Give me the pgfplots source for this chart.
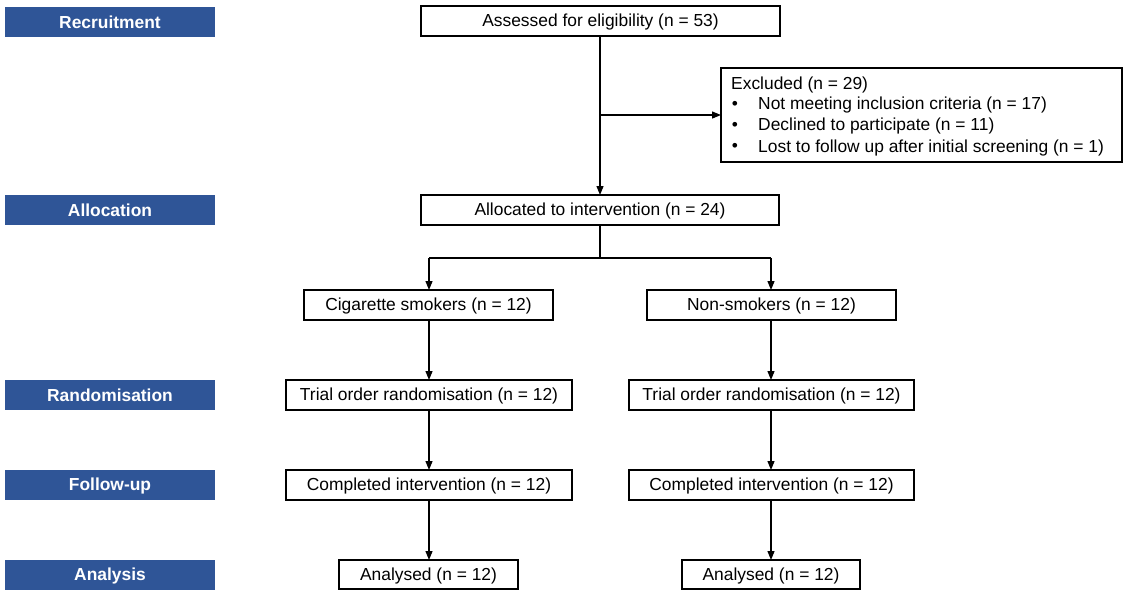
\documentclass[border=0pt]{standalone}
\usepackage{pgfplots}
\pgfplotsset{compat=1.18}
\usepackage{fontspec}
\setmainfont{Liberation Sans}
\usetikzlibrary{arrows.meta}
\definecolor{stageblue}{HTML}{2F5597}

\begin{document}
\begin{tikzpicture}[
    box/.style={draw=black, line width=1.2pt, fill=white},
    arr/.style={line width=1.2pt, -{Triangle[length=9pt,width=7pt]}},
    txt/.style={font=\fontsize{17.4}{21}\selectfont, inner sep=0pt},
    stage/.style={font=\fontsize{17.4}{21}\selectfont\bfseries, inner sep=0pt, text=white},
  ]
  \begin{axis}[
    width=1124pt, height=590pt, scale only axis,
    xmin=0, xmax=1124, ymin=0, ymax=590, y dir=reverse,
    axis lines=none, xtick=\empty, ytick=\empty,
    clip=false,
  ]
    \addplot[draw=none] coordinates {(0,0) (1124,590)};

    % stage labels on the left
    \fill[stageblue] (axis cs:5,7) rectangle (axis cs:215,37);
    \node[stage] at (axis cs:110,22.5) {Recruitment};
    \fill[stageblue] (axis cs:5,195) rectangle (axis cs:215,225);
    \node[stage] at (axis cs:110,210.5) {Allocation};
    \fill[stageblue] (axis cs:5,380) rectangle (axis cs:215,410);
    \node[stage] at (axis cs:110,395.5) {Randomisation};
    \fill[stageblue] (axis cs:5,470) rectangle (axis cs:215,500);
    \node[stage] at (axis cs:110,485.5) {Follow-up};
    \fill[stageblue] (axis cs:5,560) rectangle (axis cs:215,590);
    \node[stage] at (axis cs:110,575.5) {Analysis};

    % connectors
    \draw[arr] (axis cs:600,36) -- (axis cs:600,195);
    \draw[arr] (axis cs:600,115) -- (axis cs:721,115);
    \draw[line width=1.2pt] (axis cs:600,225) -- (axis cs:600,258);
    \draw[line width=1.2pt] (axis cs:429,258) -- (axis cs:771,258);
    \draw[arr] (axis cs:429,258) -- (axis cs:429,290);
    \draw[arr] (axis cs:771,258) -- (axis cs:771,290);
    \draw[arr] (axis cs:429,320) -- (axis cs:429,380);
    \draw[arr] (axis cs:429,410) -- (axis cs:429,470);
    \draw[arr] (axis cs:429,500) -- (axis cs:429,560);
    \draw[arr] (axis cs:771,320) -- (axis cs:771,380);
    \draw[arr] (axis cs:771,410) -- (axis cs:771,470);
    \draw[arr] (axis cs:771,500) -- (axis cs:771,560);

    % boxes
    \draw[box] (axis cs:421,6) rectangle (axis cs:780,36);
    \node[txt] at (axis cs:600.5,22) {Assessed for eligibility (n = 53)};

    \draw[box] (axis cs:721,68) rectangle (axis cs:1122,162);
    \node[txt, anchor=west] at (axis cs:731,84.5) {Excluded (n = 29)};
    \node[txt] at (axis cs:735,105) {\textbullet};
    \node[txt, anchor=west] at (axis cs:758,105) {Not meeting inclusion criteria (n = 17)};
    \node[txt] at (axis cs:735,126) {\textbullet};
    \node[txt, anchor=west] at (axis cs:758,126) {Declined to participate (n = 11)};
    \node[txt] at (axis cs:735,147.5) {\textbullet};
    \node[txt, anchor=west] at (axis cs:758,147.5) {Lost to follow up after initial screening (n = 1)};

    \draw[box] (axis cs:421,195) rectangle (axis cs:779,225);
    \node[txt] at (axis cs:600,211) {Allocated to intervention (n = 24)};

    \draw[box] (axis cs:304,290) rectangle (axis cs:553,320);
    \node[txt] at (axis cs:428.5,306) {Cigarette smokers (n = 12)};
    \draw[box] (axis cs:647,290) rectangle (axis cs:896,320);
    \node[txt] at (axis cs:771.5,306) {Non-smokers (n = 12)};

    \draw[box] (axis cs:286,380) rectangle (axis cs:572,410);
    \node[txt] at (axis cs:429,396) {Trial order randomisation (n = 12)};
    \draw[box] (axis cs:629,380) rectangle (axis cs:914,410);
    \node[txt] at (axis cs:771.5,396) {Trial order randomisation (n = 12)};

    \draw[box] (axis cs:286,470) rectangle (axis cs:572,500);
    \node[txt] at (axis cs:429,486) {Completed intervention (n = 12)};
    \draw[box] (axis cs:629,470) rectangle (axis cs:914,500);
    \node[txt] at (axis cs:771.5,486) {Completed intervention (n = 12)};

    \draw[box] (axis cs:339,560) rectangle (axis cs:518,589);
    \node[txt] at (axis cs:428.5,576) {Analysed (n = 12)};
    \draw[box] (axis cs:682,560) rectangle (axis cs:860,589);
    \node[txt] at (axis cs:771,576) {Analysed (n = 12)};
  \end{axis}
\end{tikzpicture}
\end{document}
